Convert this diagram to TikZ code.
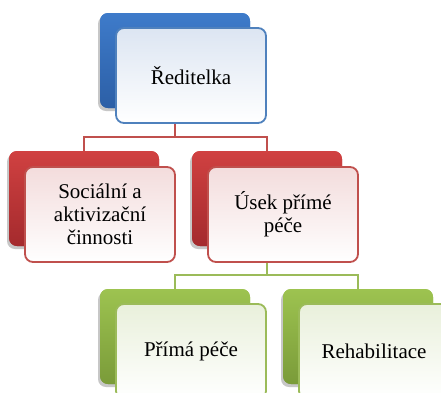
\documentclass[tikz,border=0pt]{standalone}
\usepackage{fontspec}
\setmainfont{Liberation Serif}
\newfontfamily\cardfont{Liberation Serif}
\usetikzlibrary{shadows}
\definecolor{bluetop}{HTML}{3E7BCA}
\definecolor{bluebot}{HTML}{2C5FA6}
\definecolor{blueedge}{HTML}{4F81BD}
\definecolor{bluetint}{HTML}{DCE5F2}
\definecolor{redtop}{HTML}{D04141}
\definecolor{redbot}{HTML}{A42A2D}
\definecolor{rededge}{HTML}{C0504D}
\definecolor{redtint}{HTML}{F3DCDC}
\definecolor{greentop}{HTML}{9DC350}
\definecolor{greenbot}{HTML}{7A9B39}
\definecolor{greenedge}{HTML}{9BBB59}
\definecolor{greentint}{HTML}{E9F0DB}
\tikzset{
  card/.style={rectangle, rounded corners=8pt, minimum width=150pt, minimum height=95pt, inner sep=0pt},
  backcard/.style={card, top color=#1top, bottom color=#1bot, draw=none,
    drop shadow={shadow xshift=-2pt, shadow yshift=-3pt, opacity=0.25}},
  frontcard/.style={card, top color=#1tint, middle color=#1tint, bottom color=white,
    draw=#1edge, line width=1.8pt, align=center,
    font=\cardfont\fontsize{21}{23}\selectfont},
  link/.style={draw=#1edge, line width=1.8pt}
}
\begin{document}
\begin{tikzpicture}[x=1pt, y=-1pt]
\useasboundingbox (0,0) rectangle (441,392);
\clip (0,0) rectangle (441,392);
% junction points of the tree connectors
\coordinate (j1) at (175,137);
\coordinate (j2) at (267,275);
% back cards
\node[backcard=blue]  (bA) at (175,60.5) {};
\node[backcard=red]   (bB) at (84,198.5) {};
\node[backcard=red]   (bC) at (267,198.5) {};
\node[backcard=green] (bD) at (175,336.5) {};
\node[backcard=green] (bE) at (358,336.5) {};
% connectors between levels
\draw[link=red] (bA.south) -- (j1) -| (bB.north);
\draw[link=red] (j1) -| (bC.north);
\draw[link=green] (bC.south) -- (j2) -| (bD.north);
\draw[link=green] (j2) -| (bE.north);
% back cards again on top of the connectors
\node[backcard=blue]  at (bA) {};
\node[backcard=red]   at (bB) {};
\node[backcard=red]   at (bC) {};
\node[backcard=green] at (bD) {};
\node[backcard=green] at (bE) {};
% front cards with the labels
\node[frontcard=blue]  (fA) at (191,75.5)  {Ředitelka};
\node[frontcard=red]   (fB) at (100,214.5) {Sociální a\\aktivizační\\činnosti};
\node[frontcard=red]   (fC) at (283,214.5) {Úsek přímé\\péče};
\node[frontcard=green] (fD) at (191,351.5) {Přímá péče};
\node[frontcard=green] (fE) at (374,351.5) {Rehabilitace};
\end{tikzpicture}
\end{document}
